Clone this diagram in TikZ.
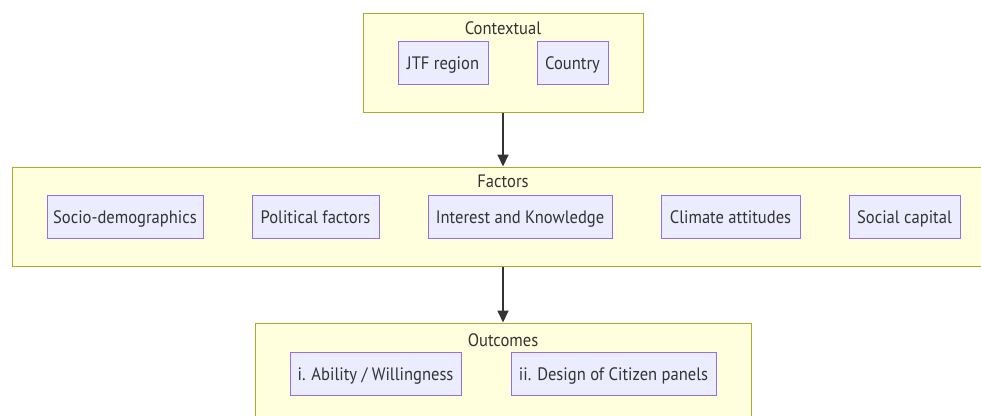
\documentclass[tikz,border=0pt]{standalone}
\usepackage{fontspec}
\setmainfont{PT Sans}[FakeStretch=0.92]
\usetikzlibrary{arrows.meta}
\definecolor{clfill}{HTML}{FFFFDE}
\definecolor{clline}{HTML}{AAAA33}
\definecolor{ndfill}{HTML}{ECECFF}
\definecolor{ndline}{HTML}{9370DB}
\definecolor{txt}{HTML}{333333}
\tikzset{
  cluster/.style={draw=clline, fill=clfill, line width=1pt, inner sep=0pt},
  item/.style={draw=ndline, fill=ndfill, line width=1pt, inner sep=0pt, minimum height=43pt, text=txt, text height=18pt, text depth=4pt, font=\fontsize{18}{21}\selectfont},
  title/.style={text=txt, inner sep=0pt, text height=18pt, text depth=4pt, font=\fontsize{18}{21}\selectfont},
  arr/.style={draw=txt, line width=1.8pt, -{Triangle[length=12pt,width=11pt]}}
}
\begin{document}
\begin{tikzpicture}[x=1pt,y=-1pt]
\useasboundingbox (0,0) rectangle (981,415);
\clip (0,0) rectangle (981,415);
% clusters
\node[cluster, minimum width=280pt, minimum height=99pt] (ctx) at (503,62.5) {};
\node[title] (ctxt) at (503,27) {Contextual};
\node[cluster, minimum width=982pt, minimum height=99pt] (fac) at (503,216.5) {};
\node[title] (fact) at (503,180) {Factors};
\node[cluster, minimum width=496pt, minimum height=120pt] (out) at (503,383) {};
\node[title] (outt) at (503,339) {Outcomes};
% items
\node[item, minimum width=90pt] (jtf) at (443,62.5) {JTF region};
\node[item, minimum width=71pt] (cty) at (572.5,62.5) {Country};
\node[item, minimum width=156pt] (soc) at (125,216.5) {Socio-demographics};
\node[item, minimum width=127pt] (pol) at (315.5,216.5) {Political factors};
\node[item, minimum width=184pt] (int) at (520,216.5) {Interest and Knowledge};
\node[item, minimum width=139pt] (cli) at (730.5,216.5) {Climate attitudes};
\node[item, minimum width=111pt] (scap) at (904.5,216.5) {Social capital};
\node[item, minimum width=171pt] (abi) at (375.5,373.5) {i. Ability / Willingness};
\node[item, minimum width=205pt] (des) at (613.5,373.5) {ii. Design of Citizen panels};
% arrows
\draw[arr] (ctx.south) -- (fac.north);
\draw[arr] (fac.south) -- (out.north);
\end{tikzpicture}
\end{document}
